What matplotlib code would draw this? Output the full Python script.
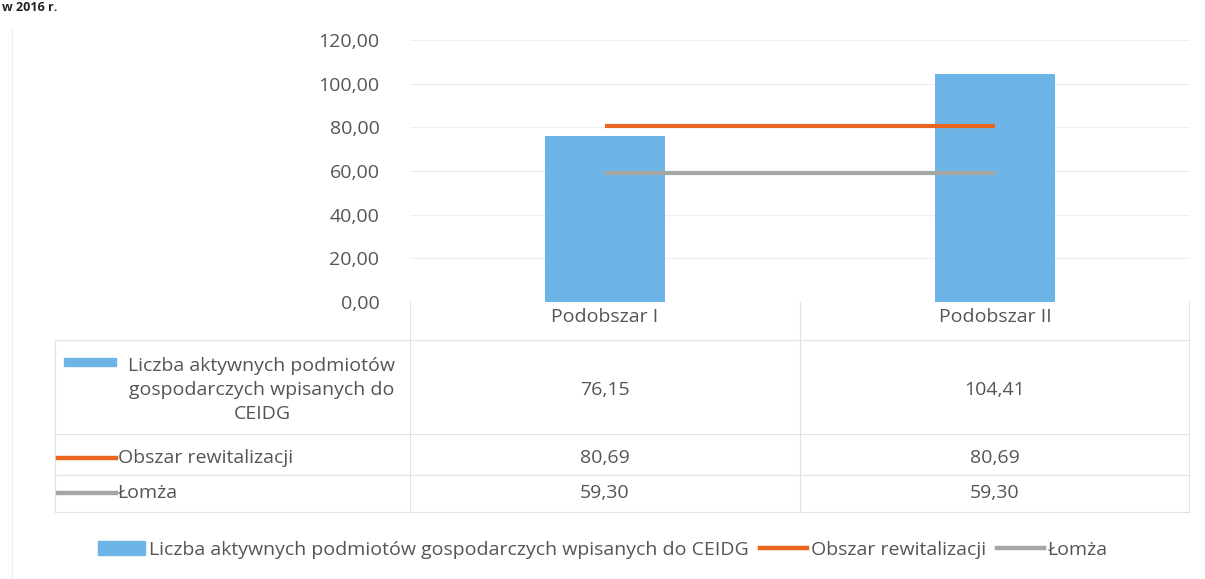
import matplotlib
matplotlib.use("Agg")
import matplotlib.pyplot as plt
from matplotlib.lines import Line2D
from matplotlib.patches import Rectangle, Patch

categories = ["Podobszar I", "Podobszar II"]
bar_values = [76.15, 104.41]
rewit_values = [80.69, 80.69]
lomza_values = [59.30, 59.30]
series_names = ["Liczba aktywnych podmiotów gospodarczych wpisanych do CEIDG",
                "Obszar rewitalizacji", "Łomża"]
row_label_1 = "Liczba aktywnych podmiotów\ngospodarczych wpisanych do\nCEIDG"
yticks = [0, 20, 40, 60, 80, 100, 120]

plt.rcParams['font.family'] = ['Open Sans', 'DejaVu Sans']
TXT = "#555555"
BLUE = "#6db5e6"
ORANGE = "#e8661e"
GRAY = "#a6a6a6"
GRID = "#eeeeee"
FS = 14

W, H = 1205, 579
fig = plt.figure(figsize=(W / 100, H / 100), dpi=100)

def fx(px):
    return px / W

def fy(py):
    return 1 - py / H

ax = fig.add_axes([fx(410), fy(302), fx(1190) - fx(410), fy(40) - fy(302)])
x = list(range(len(categories)))
ax.bar(x, bar_values, width=0.31, color=BLUE, zorder=2)
ax.plot(x, rewit_values, color=ORANGE, lw=3, zorder=3, solid_capstyle='butt')
ax.plot(x, lomza_values, color=GRAY, lw=3, zorder=3, solid_capstyle='butt')
ax.set_xlim(-0.5, 1.5)
ax.set_ylim(0, 120)
ax.set_yticks(yticks)
ax.set_yticklabels([f"{v:.2f}".replace(".", ",") for v in yticks], color=TXT, fontsize=FS)
ax.tick_params(axis='y', length=0, pad=22)
ax.set_xticks(x)
ax.set_xticklabels(categories, color=TXT, fontsize=FS)
ax.tick_params(axis='x', length=0, pad=4)
ax.grid(axis='y', color=GRID, lw=0.8, zorder=0)
for s in ax.spines.values():
    s.set_visible(False)

# data table
LINE = "#e2e2e2"
def fline(x0, y0, x1, y1, color=LINE, lw=0.8):
    fig.add_artist(Line2D([fx(x0), fx(x1)], [fy(y0), fy(y1)], color=color, lw=lw))

for xv in (410, 800, 1189):
    fline(xv, 302, xv, 512)
fline(55, 340, 55, 512)
for yv in (340, 434, 475, 512):
    fline(55, yv, 1189, yv)

centers = [605, 995]
row_y = [390, 458, 493]
rows = [bar_values, rewit_values, lomza_values]
for ry, vals in zip(row_y, rows):
    for cx, v in zip(centers, vals):
        fig.text(fx(cx), fy(ry), f"{v:.2f}".replace(".", ","), ha='center', va='center',
                 color=TXT, fontsize=FS)

fig.text(fx(262), fy(390), row_label_1, ha='center', va='center', color=TXT,
         fontsize=FS, linespacing=1.45)
fig.add_artist(Rectangle((fx(64), fy(366)), fx(116) - fx(64), fy(358) - fy(366),
                         color=BLUE, transform=fig.transFigure))
fline(58, 458, 116, 458, color=ORANGE, lw=3.2)
fig.text(fx(118), fy(458), series_names[1], ha='left', va='center', color=TXT, fontsize=FS)
fline(58, 493, 116, 493, color=GRAY, lw=3.2)
fig.text(fx(118), fy(493), series_names[2], ha='left', va='center', color=TXT, fontsize=FS)

# legend
handles = [Patch(color=BLUE), Line2D([], [], color=ORANGE, lw=3.2), Line2D([], [], color=GRAY, lw=3.2)]
leg = fig.legend(handles, series_names, loc='center', bbox_to_anchor=(fx(603), fy(550)),
                 ncol=3, frameon=False, fontsize=FS, handlelength=2.4, handletextpad=0.2,
                 columnspacing=0.6, labelcolor=TXT)

# frame edge and title remnant
fline(12, 28, 12, 579, color="#eeeeee", lw=0.8)
fig.text(fx(2), fy(1), "w 2016 r.", ha='left', va='top', fontsize=9, fontweight='bold',
         color="#222222")

fig.savefig("out.png", dpi=100)
